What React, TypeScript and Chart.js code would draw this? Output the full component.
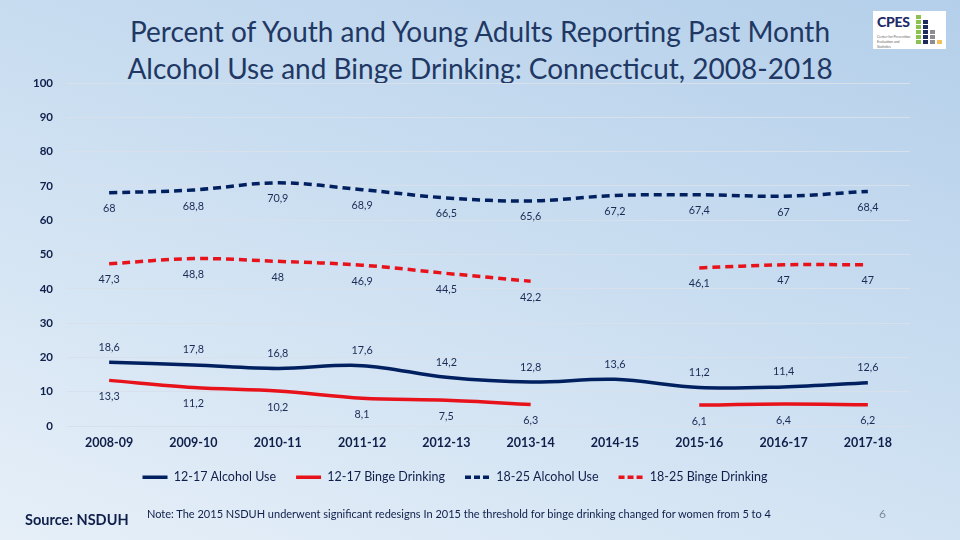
import React, { useEffect, useRef } from 'react';
import { Chart, registerables } from 'chart.js';

Chart.register(...registerables);

const categories = ['2008-09', '2009-10', '2010-11', '2011-12', '2012-13', '2013-14', '2014-15', '2015-16', '2016-17', '2017-18'];
const alcohol1217 = [18.6, 17.8, 16.8, 17.6, 14.2, 12.8, 13.6, 11.2, 11.4, 12.6];
const binge1217 = [13.3, 11.2, 10.2, 8.1, 7.5, 6.3, null, 6.1, 6.4, 6.2];
const alcohol1825 = [68, 68.8, 70.9, 68.9, 66.5, 65.6, 67.2, 67.4, 67, 68.4];
const binge1825 = [47.3, 48.8, 48, 46.9, 44.5, 42.2, null, 46.1, 47, 47];
const seriesNames = ['12-17 Alcohol Use', '12-17 Binge Drinking', '18-25 Alcohol Use', '18-25 Binge Drinking'];

const NAVY = '#002060';
const RED = '#e8121b';
const TEXT = '#0f1f4a';
const FONT = 'Lato, "Open Sans", sans-serif';

const valueLabels = {
  id: 'valueLabels',
  afterDatasetsDraw(chart: any) {
    const ctx = chart.ctx;
    ctx.save();
    ctx.font = `10.8px ${FONT}`;
    ctx.fillStyle = '#1a2b55';
    ctx.textAlign = 'center';
    ctx.textBaseline = 'middle';
    chart.data.datasets.forEach((ds: any, i: number) => {
      const meta = chart.getDatasetMeta(i);
      meta.data.forEach((pt: any, j: number) => {
        const v = ds.data[j];
        if (v == null) return;
        ctx.fillText(String(v).replace('.', ','), pt.x, pt.y + ds.labelOffset);
      });
    });
    ctx.restore();
  },
};

function ChartCanvas() {
  const ref = useRef<HTMLCanvasElement>(null);
  useEffect(() => {
    if (!ref.current) return;
    const chart = new Chart(ref.current, {
      type: 'line',
      data: {
        labels: categories,
        datasets: [
          { label: seriesNames[0], data: alcohol1217, borderColor: NAVY, backgroundColor: NAVY, borderWidth: 3.5, labelOffset: -15 } as any,
          { label: seriesNames[1], data: binge1217, borderColor: RED, backgroundColor: RED, borderWidth: 3.5, labelOffset: 16 } as any,
          { label: seriesNames[2], data: alcohol1825, borderColor: NAVY, backgroundColor: NAVY, borderWidth: 3.5, borderDash: [8, 5], labelOffset: 16 } as any,
          { label: seriesNames[3], data: binge1825, borderColor: RED, backgroundColor: RED, borderWidth: 3.5, borderDash: [8, 5], labelOffset: 16 } as any,
        ],
      },
      options: {
        animation: false,
        responsive: false,
        maintainAspectRatio: false,
        spanGaps: false,
        elements: {
          point: { radius: 0, hoverRadius: 0 },
          line: { tension: 0.35, fill: false },
        },
        layout: { padding: { top: 83, right: 50, left: 0, bottom: 46.5 } },
        scales: {
          x: {
            offset: true,
            grid: { display: false, drawTicks: false },
            border: { display: false },
            ticks: { color: TEXT, font: { family: FONT, size: 12.5, weight: 'bold' }, padding: 9, maxRotation: 0 },
            afterFit: (s: any) => { s.height = 25; },
          },
          y: {
            min: 0,
            max: 100,
            grid: { color: '#d8e1eb', lineWidth: 1, drawTicks: false },
            border: { display: false },
            ticks: { stepSize: 10, color: TEXT, font: { family: FONT, size: 11.5, weight: 'bold' }, padding: 14 },
            afterFit: (s: any) => { s.width = 67; },
          },
        },
        plugins: {
          title: { display: false },
          tooltip: { enabled: false },
          legend: {
            position: 'bottom',
            labels: {
              usePointStyle: true,
              pointStyleWidth: 25,
              padding: 20,
              color: TEXT,
              font: { family: FONT, size: 12.5 },
              generateLabels: (c: any) =>
                c.data.datasets.map((ds: any, i: number) => ({
                  text: ds.label,
                  fillStyle: ds.borderColor,
                  strokeStyle: ds.borderColor,
                  lineWidth: 3.5,
                  lineDash: ds.borderDash ? [6, 3] : [],
                  pointStyle: 'line',
                  hidden: false,
                  datasetIndex: i,
                  fontColor: TEXT,
                })),
            },
          },
        },
      } as any,
      plugins: [valueLabels],
    });
    return () => chart.destroy();
  }, []);
  return <canvas ref={ref} width={960} height={540} style={{ position: 'absolute', left: 0, top: 0, width: 960, height: 540 }} />;
}

function Logo() {
  const sq = (left: number, top: number, w: number, h: number, color: string) => (
    <div style={{ position: 'absolute', left, top, width: w, height: h, background: color }} />
  );
  const green = '#8cc152';
  const navy = '#1f2a5c';
  const grey = '#8c8c94';
  const yellow = '#f2c25a';
  return (
    <div style={{ position: 'absolute', left: 873, top: 11, width: 73, height: 38, background: '#ffffff' }}>
      <div style={{ position: 'absolute', left: 4, top: 2, fontFamily: FONT, fontWeight: 900, fontSize: 14, color: '#1f2a6a', letterSpacing: -0.3 }}>CPES</div>
      <div style={{ position: 'absolute', left: 4, top: 24, fontFamily: FONT, fontSize: 3.5, color: '#666', lineHeight: '5px', width: 36 }}>Center for Prevention Evaluation and Statistics</div>
      {sq(43, 4, 5, 4, green)}
      {sq(43, 9, 5, 4, green)}
      {sq(50, 9, 5, 4, navy)}
      {sq(43, 14, 5, 4, green)}
      {sq(50, 14, 5, 4, navy)}
      {sq(43, 19, 5, 4, green)}
      {sq(50, 19, 5, 4, navy)}
      {sq(57, 19, 5, 4, grey)}
      {sq(43, 24, 5, 4, green)}
      {sq(50, 24, 5, 4, navy)}
      {sq(57, 24, 5, 4, grey)}
      {sq(43, 29, 5, 4, green)}
      {sq(50, 29, 5, 4, navy)}
      {sq(57, 29, 5, 4, grey)}
      {sq(64, 29, 5, 4, yellow)}
    </div>
  );
}

export default function App() {
  return (
    <div
      style={{
        position: 'fixed',
        left: 0,
        top: 0,
        width: 960,
        height: 540,
        overflow: 'hidden',
        background: 'linear-gradient(20deg, #e6eff8 0%, #cfe1f2 45%, #b4cfea 100%)',
        fontFamily: FONT,
      }}
    >
      <div
        style={{
          position: 'absolute',
          left: 0,
          top: 13,
          width: 960,
          textAlign: 'center',
          fontSize: 28,
          lineHeight: '37px',
          color: '#1f3864',
          fontFamily: FONT,
        }}
      >
        Percent of Youth and Young Adults Reporting Past Month
        <br />
        Alcohol Use and Binge Drinking: Connecticut, 2008-2018
      </div>
      <Logo />
      <ChartCanvas />
      <div style={{ position: 'absolute', left: 25, top: 511, fontSize: 14.5, fontWeight: 'bold', color: TEXT, whiteSpace: 'nowrap' }}>Source: NSDUH</div>
      <div style={{ position: 'absolute', left: 147, top: 507, fontSize: 11, color: TEXT, whiteSpace: 'nowrap' }}>
        Note: The 2015 NSDUH underwent significant redesigns In 2015 the threshold for binge drinking changed for women from 5 to 4
      </div>
      <div style={{ position: 'absolute', left: 879, top: 506, fontSize: 12, color: '#7f8a9c' }}>6</div>
    </div>
  );
}
